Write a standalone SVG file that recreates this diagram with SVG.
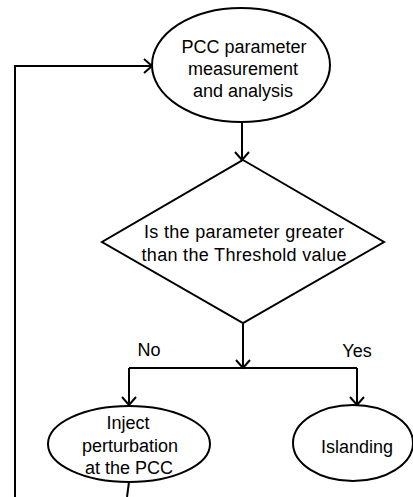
<svg xmlns="http://www.w3.org/2000/svg" width="413" height="497" viewBox="0 0 413 497">
  <defs>
    <marker id="arrow" viewBox="-10 -10 12 20" markerWidth="12" markerHeight="20" refX="0" refY="0" orient="auto" markerUnits="userSpaceOnUse">
      <path d="M-8,-7 L0,0 L-8,7" fill="none" stroke="#000" stroke-width="2"/>
    </marker>
    <style>
      .shape { fill: #fff; stroke: #000; stroke-width: 2; }
      .line { fill: none; stroke: #000; stroke-width: 2; }
      .label { font-family: "Liberation Sans", Arial, sans-serif; font-size: 18px; fill: #000; text-anchor: middle; }
    </style>
  </defs>
  <rect width="413" height="497" fill="#fff"/>

  <g id="connectors">
    <!-- feedback loop back to the measurement step -->
    <path class="line" d="M127,497 L129,482"/>
    <path class="line" d="M15,497 L15,66 L152,66" marker-end="url(#arrow)"/>
    <!-- measurement to decision -->
    <path class="line" d="M242,123 L242,160" marker-end="url(#arrow)"/>
    <!-- decision to branch junction -->
    <path class="line" d="M243,323 L243,368" marker-end="url(#arrow)"/>
    <path class="line" d="M129,368 L357,368"/>
    <path class="line" d="M129,368 L129,405" marker-end="url(#arrow)"/>
    <path class="line" d="M357,368 L357,405" marker-end="url(#arrow)"/>
  </g>

  <g id="measure">
    <ellipse class="shape" cx="241" cy="65" rx="89" ry="57"/>
    <text class="label" x="244" y="53">PCC parameter</text>
    <text class="label" x="243" y="75">measurement</text>
    <text class="label" x="243" y="97">and analysis</text>
  </g>

  <g id="decision">
    <polygon class="shape" points="243,160 384,242 243,323 102,242"/>
    <text class="label" x="244" y="238" textLength="200" lengthAdjust="spacing">Is the parameter greater</text>
    <text class="label" x="244" y="261" textLength="205" lengthAdjust="spacing">than the Threshold value</text>
  </g>

  <g id="label-no">
    <text class="label" x="149" y="356">No</text>
  </g>
  <g id="label-yes">
    <text class="label" x="357" y="357">Yes</text>
  </g>

  <g id="inject">
    <ellipse class="shape" cx="129" cy="444" rx="81" ry="38"/>
    <text class="label" x="128" y="429">Inject</text>
    <text class="label" x="130" y="452">perturbation</text>
    <text class="label" x="129" y="474">at the PCC</text>
  </g>

  <g id="islanding">
    <ellipse class="shape" cx="353" cy="443" rx="60" ry="38"/>
    <text class="label" x="357" y="453">Islanding</text>
  </g>
</svg>
